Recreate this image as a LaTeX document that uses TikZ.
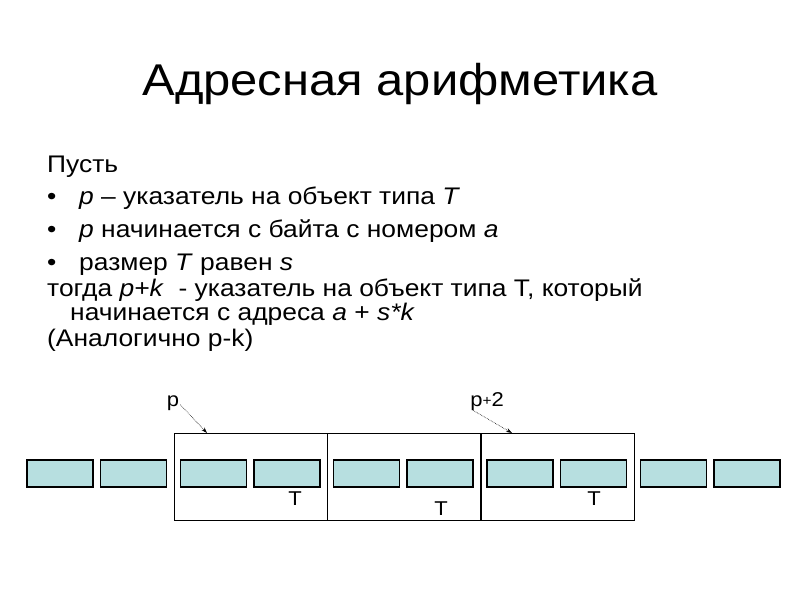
\documentclass[tikz,border=0pt]{standalone}
\usepackage{fontspec}
\setmainfont[FakeStretch=1.1]{Liberation Sans}
\usetikzlibrary{arrows.meta}
\definecolor{cellfill}{HTML}{B7DFE0}
\begin{document}
\begin{tikzpicture}[x=1pt,y=-1pt,
  line/.style={anchor=base west,inner sep=0pt,font=\fontsize{24}{28}\selectfont},
  cell/.style={draw=black,line width=1.2pt,fill=cellfill,minimum width=66pt,minimum height=27pt,inner sep=0pt},
  bigbox/.style={draw=black,line width=0.9pt,minimum width=153pt,minimum height=87pt,inner sep=0pt},
  lbl/.style={font=\fontsize{20}{22}\selectfont,inner sep=0pt,anchor=base},
  ptr/.style={densely dotted,line width=0.6pt,-{Stealth[length=6pt,width=4pt]}}]
\useasboundingbox (0,0) rectangle (800,600);
\fill[white] (0,0) rectangle (800,600);
\node[anchor=base,inner sep=0pt,font=\fontsize{44.5}{48}\selectfont] (title) at (400,95) {Адресная арифметика};
\node[line] (l1) at (47,172) {Пусть};
\node[line] (b1) at (47,204) {•};
\node[line] (l2) at (79,204) {\textit{p} – указатель на объект типа \textit{T}};
\node[line] (b2) at (47,237) {•};
\node[line] (l3) at (79,237) {\textit{p} начинается с байта с номером \textit{a}};
\node[line] (b3) at (47,270) {•};
\node[line] (l4) at (79,270) {размер \textit{T} равен \textit{s}};
\node[line] (l5) at (47,296) {тогда \textit{p+k}\ \ - указатель на объект типа Т, который};
\node[line] (l6) at (70,320) {начинается с адреса \textit{a} + \textit{s*k}};
\node[line] (l7) at (47,346) {(Аналогично p-k)};
% big boxes
\node[bigbox] (B1) at (250.5,476.5) {};
\node[bigbox] (B2) at (404,476.5) {};
\node[bigbox] (B3) at (557.5,476.5) {};
% cells
\foreach \i/\x in {1/60,2/133.5,3/213.5,4/287,5/366.5,6/440,7/520,8/593.5,9/673.5,10/747}
  \node[cell] (c\i) at (\x,473.5) {};
\node[lbl] (T1) at (295,505) {T};
\node[lbl] (T2) at (441,515) {T};
\node[lbl] (T3) at (594,505) {T};
\node[lbl] (p) at (173,406) {p};
\node[lbl] (p2) at (487,406) {p\raisebox{1pt}{\fontsize{14}{15}\selectfont +}2};
\coordinate (a1) at (207,433);
\coordinate (a2) at (512,433);
\draw[ptr] (p.east) ++(1,2) coordinate (s1) (s1) -- (a1);
\draw[ptr] (p2.south west) ++(3,0) coordinate (s2) (s2) -- (a2);
\end{tikzpicture}
\end{document}
